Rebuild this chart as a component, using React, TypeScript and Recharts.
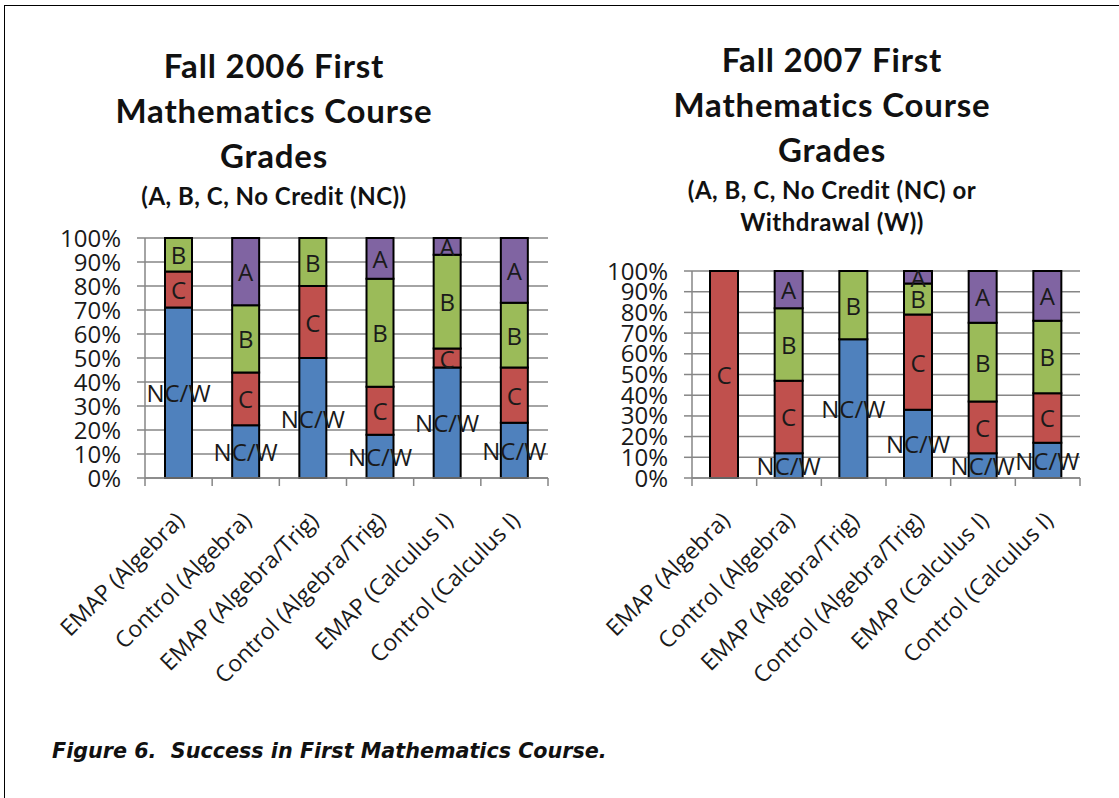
import React from 'react'
import { BarChart, Bar, XAxis, YAxis, CartesianGrid, LabelList } from 'recharts'

const categories = [
  'EMAP (Algebra)',
  'Control (Algebra)',
  'EMAP (Algebra/Trig)',
  'Control (Algebra/Trig)',
  'EMAP (Calculus I)',
  'Control (Calculus I)',
]

// percentages per grade, bottom to top of each stack
const fall2006NcW = [71, 22, 50, 18, 46, 23]
const fall2006C = [15, 22, 30, 20, 8, 23]
const fall2006B = [14, 28, 20, 45, 39, 27]
const fall2006A = [0, 28, 0, 17, 7, 27]

const fall2007NcW = [0, 12, 67, 33, 12, 17]
const fall2007C = [100, 35, 0, 46, 25, 24]
const fall2007B = [0, 35, 33, 15, 38, 35]
const fall2007A = [0, 18, 0, 6, 25, 24]

const yTicks = [0, 10, 20, 30, 40, 50, 60, 70, 80, 90, 100]

const COLORS = { ncw: '#4F81BD', c: '#C0504D', b: '#9BBB59', a: '#8064A2' }
const GRID = '#868686'
const FONT = '"Open Sans", sans-serif'

const buildRows = (ncw: number[], c: number[], b: number[], a: number[]) =>
  categories.map((name, i) => ({ name, ncw: ncw[i], c: c[i], b: b[i], a: a[i] }))

const segmentLabel = (text: string) => (props: any) => {
  const { x, y, width, height, value } = props
  if (!value) return null
  return (
    <text
      x={Number(x) + Number(width) / 2}
      y={Number(y) + Number(height) / 2}
      textAnchor="middle"
      dominantBaseline="central"
      fontFamily={FONT}
      fontSize={24}
      fill="#1a1a1a"
    >
      {text}
    </text>
  )
}

function CategoryTick(props: any) {
  const { x, y, payload, index, band, count } = props
  const tx = x + 7
  const ty = y + 44
  return (
    <g>
      <line x1={x - band / 2} x2={x - band / 2} y1={y} y2={y + 8} stroke={GRID} strokeWidth={1.5} />
      {index === count - 1 && (
        <line x1={x + band / 2} x2={x + band / 2} y1={y} y2={y + 8} stroke={GRID} strokeWidth={1.5} />
      )}
      <text
        x={tx}
        y={ty}
        transform={`rotate(-45, ${tx}, ${ty})`}
        textAnchor="end"
        fontFamily={FONT}
        fontSize={23}
        fill="#1a1a1a"
      >
        {payload.value}
      </text>
    </g>
  )
}

interface GradeChartProps {
  data: ReturnType<typeof buildRows>
  width: number
  margin: { top: number; right: number; bottom: number; left: number }
  barSize: number
}

function GradeChart({ data, width, margin, barSize }: GradeChartProps) {
  const height = 720
  const plotWidth = width - margin.left - margin.right - 105
  const band = plotWidth / categories.length
  return (
    <BarChart width={width} height={height} data={data} margin={margin} barSize={barSize}>
      <CartesianGrid horizontal vertical={false} stroke={GRID} strokeWidth={1.5} />
      <XAxis
        dataKey="name"
        interval={0}
        axisLine={{ stroke: GRID, strokeWidth: 1.5 }}
        tickLine={false}
        tickSize={0}
        tickMargin={0}
        height={40}
        tick={<CategoryTick band={band} count={categories.length} />}
      />
      <YAxis
        width={105}
        domain={[0, 100]}
        ticks={yTicks}
        interval={0}
        tickFormatter={(v) => `${v}%`}
        axisLine={{ stroke: GRID, strokeWidth: 1.5 }}
        tickLine={{ stroke: GRID, strokeWidth: 1.5 }}
        tickSize={8}
        tickMargin={16}
        tick={{ fontFamily: FONT, fontSize: 24, fill: '#1a1a1a' }}
      />
      <Bar dataKey="ncw" stackId="g" fill={COLORS.ncw} stroke="#000" strokeWidth={2} isAnimationActive={false}>
        <LabelList dataKey="ncw" content={segmentLabel('NC/W')} />
      </Bar>
      <Bar dataKey="c" stackId="g" fill={COLORS.c} stroke="#000" strokeWidth={2} isAnimationActive={false}>
        <LabelList dataKey="c" content={segmentLabel('C')} />
      </Bar>
      <Bar dataKey="b" stackId="g" fill={COLORS.b} stroke="#000" strokeWidth={2} isAnimationActive={false}>
        <LabelList dataKey="b" content={segmentLabel('B')} />
      </Bar>
      <Bar dataKey="a" stackId="g" fill={COLORS.a} stroke="#000" strokeWidth={2} isAnimationActive={false}>
        <LabelList dataKey="a" content={segmentLabel('A')} />
      </Bar>
    </BarChart>
  )
}

const titleStyle: React.CSSProperties = {
  position: 'absolute',
  width: 440,
  textAlign: 'center',
  fontFamily: 'Lato, "Open Sans", sans-serif',
  fontWeight: 700,
  color: '#111',
  fontVariantLigatures: 'none',
}
const bigLine: React.CSSProperties = { fontSize: 33, lineHeight: '45px', letterSpacing: 0.8 }
const smallLine: React.CSSProperties = { fontSize: 24, lineHeight: '32px', letterSpacing: 0.5 }

export default function App() {
  const rows2006 = buildRows(fall2006NcW, fall2006C, fall2006B, fall2006A)
  const rows2007 = buildRows(fall2007NcW, fall2007C, fall2007B, fall2007A)

  return (
    <div
      style={{
        position: 'absolute',
        left: 0,
        top: 0,
        width: 1119,
        height: 798,
        background: '#fff',
        overflow: 'hidden',
      }}
    >
      {/* frame */}
      <div
        style={{
          position: 'absolute',
          left: 4,
          top: 5,
          width: 1130,
          height: 820,
          borderTop: '1.5px solid #000',
          borderLeft: '1.5px solid #000',
        }}
      />

      <div style={{ position: 'absolute', left: 0, top: 0 }}>
        <GradeChart
          data={rows2006}
          width={560}
          margin={{ top: 238, right: 12, bottom: 202, left: 40 }}
          barSize={27}
        />
      </div>
      <div style={{ position: 'absolute', left: 560, top: 0 }}>
        <GradeChart
          data={rows2007}
          width={559}
          margin={{ top: 271, right: 39, bottom: 202, left: 27 }}
          barSize={28}
        />
      </div>

      <div style={{ ...titleStyle, left: 54, top: 43 }}>
        <div style={bigLine}>Fall 2006 First</div>
        <div style={bigLine}>Mathematics Course</div>
        <div style={bigLine}>Grades</div>
        <div style={{ ...smallLine, marginTop: 2 }}>(A, B, C, No Credit (NC))</div>
      </div>

      <div style={{ ...titleStyle, left: 612, top: 37 }}>
        <div style={bigLine}>Fall 2007 First</div>
        <div style={bigLine}>Mathematics Course</div>
        <div style={bigLine}>Grades</div>
        <div style={{ ...smallLine, marginTop: 2 }}>(A, B, C, No Credit (NC) or</div>
        <div style={smallLine}>Withdrawal (W))</div>
      </div>

      <div
        style={{
          position: 'absolute',
          left: 52,
          top: 739,
          fontFamily: '"DejaVu Sans", sans-serif',
          fontWeight: 700,
          fontStyle: 'italic',
          fontSize: 20.7,
          color: '#111',
          whiteSpace: 'pre',
        }}
      >
        {'Figure 6.  Success in First Mathematics Course.'}
      </div>
    </div>
  )
}
